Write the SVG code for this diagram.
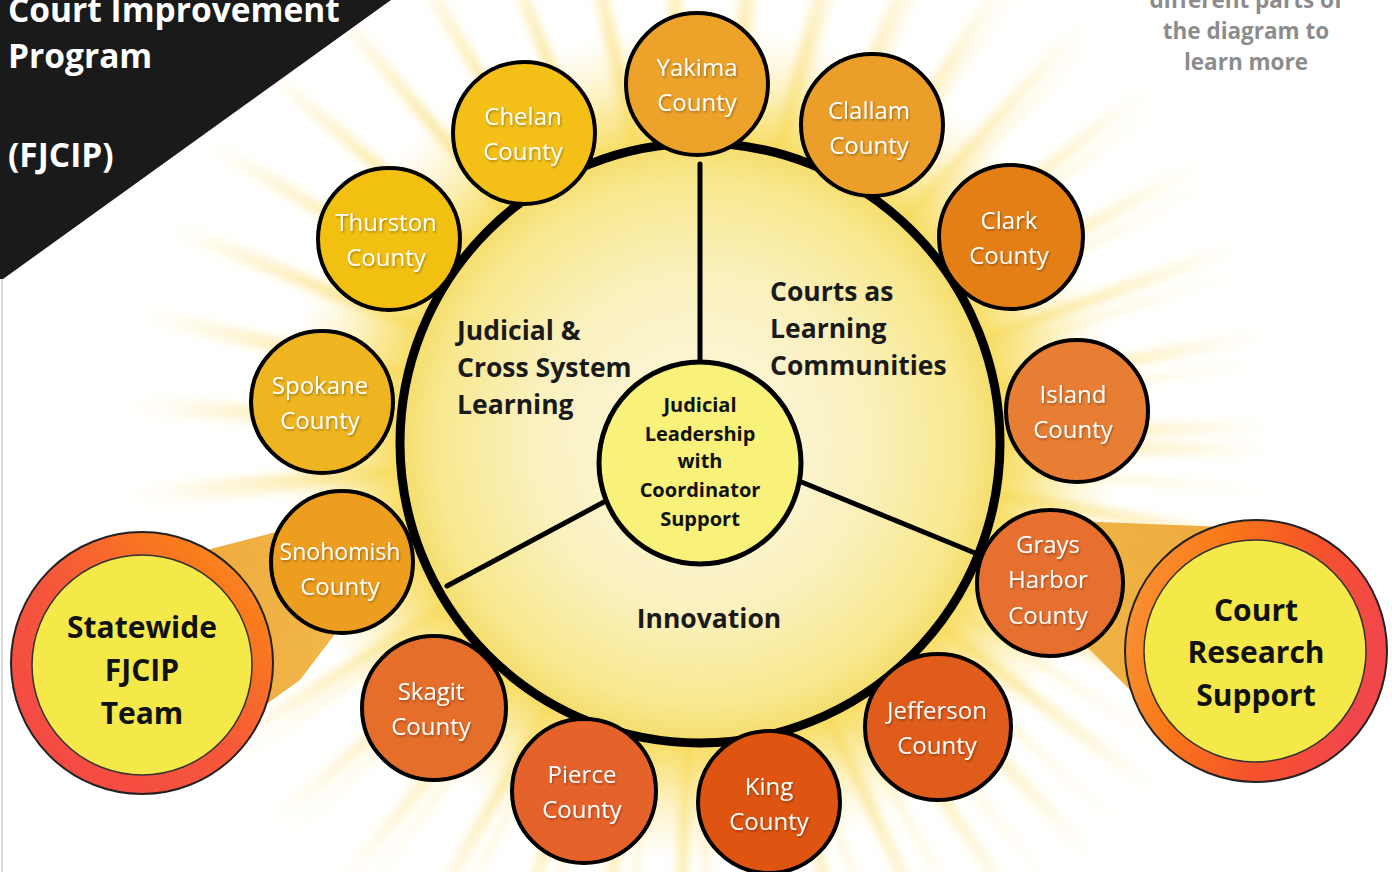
<svg xmlns="http://www.w3.org/2000/svg" width="1392" height="872" viewBox="0 0 1392 872">
  <defs>
    <style>
      .county { stroke: #000; stroke-width: 4; }
      .ctext { font-family: "Open Sans", "Liberation Sans", sans-serif; font-size: 24px; fill: #fff; text-anchor: middle; filter: url(#tshadow); }
      .sect { font-family: "Open Sans", "Liberation Sans", sans-serif; font-size: 26.5px; font-weight: 700; fill: #1a1a1a; }
      .hub { font-family: "Open Sans", "Liberation Sans", sans-serif; font-size: 20px; font-weight: 700; fill: #111; text-anchor: middle; }
      .big { font-family: "Open Sans", "Liberation Sans", sans-serif; font-size: 30px; font-weight: 700; fill: #111; text-anchor: middle; }
      .title { font-family: "Open Sans", "Liberation Sans", sans-serif; font-size: 33.5px; font-weight: 700; fill: #fff; }
      .hint { font-family: "Open Sans", "Liberation Sans", sans-serif; font-size: 22.5px; font-weight: 700; fill: #8c8c8c; text-anchor: middle; }
      .divider { stroke: #000; stroke-width: 5; stroke-linecap: round; fill: none; }
    </style>
    <filter id="tshadow" x="-20%" y="-30%" width="140%" height="160%">
      <feDropShadow dx="1" dy="1.5" stdDeviation="1" flood-color="#000" flood-opacity="0.35"/>
    </filter>
    <filter id="rayblur" x="-20%" y="-20%" width="140%" height="140%">
      <feGaussianBlur stdDeviation="5"/>
    </filter>
    <radialGradient id="rayFade" gradientUnits="userSpaceOnUse" cx="700" cy="443" r="640">
      <stop offset="0.46" stop-color="#f6cf3a" stop-opacity="0.9"/>
      <stop offset="0.66" stop-color="#f9d960" stop-opacity="0.5"/>
      <stop offset="0.9" stop-color="#fbe9a0" stop-opacity="0"/>
    </radialGradient>
    <radialGradient id="halo" gradientUnits="userSpaceOnUse" cx="700" cy="443" r="420">
      <stop offset="0.68" stop-color="#f6d74a" stop-opacity="1"/>
      <stop offset="0.80" stop-color="#f8df6c" stop-opacity="0.7"/>
      <stop offset="1" stop-color="#fcefb0" stop-opacity="0"/>
    </radialGradient>
    <radialGradient id="disc" gradientUnits="userSpaceOnUse" cx="700" cy="443" r="300">
      <stop offset="0" stop-color="#fcf8e2"/>
      <stop offset="0.55" stop-color="#faf1bf"/>
      <stop offset="0.88" stop-color="#f8e88e"/>
      <stop offset="1" stop-color="#f5dd6c"/>
    </radialGradient>
    <linearGradient id="ringLeft" x1="0" y1="1" x2="1" y2="0">
      <stop offset="0" stop-color="#f34448"/>
      <stop offset="0.5" stop-color="#f6583a"/>
      <stop offset="0.8" stop-color="#f97c1c"/>
      <stop offset="1" stop-color="#f8983a"/>
    </linearGradient>
    <linearGradient id="ringRight" x1="0" y1="0" x2="1" y2="0.3">
      <stop offset="0" stop-color="#f99a3e"/>
      <stop offset="0.35" stop-color="#f97a18"/>
      <stop offset="0.7" stop-color="#f5532a"/>
      <stop offset="1" stop-color="#f2474a"/>
    </linearGradient>
    <linearGradient id="beamL" x1="0" y1="0" x2="1" y2="0">
      <stop offset="0" stop-color="#eea232"/>
      <stop offset="1" stop-color="#f0b440"/>
    </linearGradient>
    <linearGradient id="beamR" x1="0" y1="0" x2="1" y2="0">
      <stop offset="0" stop-color="#efb23e"/>
      <stop offset="1" stop-color="#eda334"/>
    </linearGradient>
  </defs>

  <rect x="0" y="0" width="1392" height="872" fill="#fff"/>
  <line x1="2" y1="0" x2="2" y2="872" stroke="#cfcfcf" stroke-width="1.5"/>

  <!-- sunburst rays and halo behind the wheel -->
  <g id="sunburst">
    <g filter="url(#rayblur)">
      <circle cx="700" cy="443" r="450" fill="none" stroke="url(#rayFade)" stroke-width="300" stroke-dasharray="11 61"/>
      <circle cx="700" cy="443" r="440" fill="none" stroke="url(#rayFade)" stroke-width="260" stroke-dasharray="6 66" stroke-dashoffset="38" opacity="0.65"/>
    </g>
    <circle cx="700" cy="443" r="420" fill="url(#halo)"/>
  </g>

  <!-- beams linking the outer teams to their counties -->
  <g id="beams">
    <polygon points="160,562 330,518 338,630 300,680 250,716" fill="url(#beamL)" opacity="0.95"/>
    <polygon points="1050,520 1250,528 1200,760 1060,620" fill="url(#beamR)" opacity="0.95"/>
  </g>

  <!-- central wheel -->
  <g id="wheel">
    <circle cx="700" cy="443" r="300" fill="url(#disc)" stroke="#000" stroke-width="9"/>
  </g>

  <g id="connectors">
    <line class="divider" x1="700" y1="164" x2="700" y2="364"/>
    <line class="divider" x1="604" y1="502" x2="447" y2="586"/>
    <line class="divider" x1="799" y1="481" x2="975" y2="553"/>
  </g>

  <g id="sector-judicial">
    <text class="sect" x="457" y="340">Judicial &amp;</text>
    <text class="sect" x="457" y="377">Cross System</text>
    <text class="sect" x="457" y="414">Learning</text>
  </g>
  <g id="sector-courts">
    <text class="sect" x="770" y="301">Courts as</text>
    <text class="sect" x="770" y="338">Learning</text>
    <text class="sect" x="770" y="375">Communities</text>
  </g>
  <g id="sector-innovation">
    <text class="sect" x="709" y="628" text-anchor="middle">Innovation</text>
  </g>

  <g id="hub">
    <circle cx="700" cy="463" r="101" fill="#f8f27a" stroke="#000" stroke-width="5"/>
    <text class="hub" x="700" y="412">Judicial</text>
    <text class="hub" x="700" y="441">Leadership</text>
    <text class="hub" x="700" y="468">with</text>
    <text class="hub" x="700" y="497">Coordinator</text>
    <text class="hub" x="700" y="526">Support</text>
  </g>

  <!-- county nodes -->
  <g id="yakima">
    <circle class="county" cx="697" cy="84" r="71" fill="#eda22a"/>
    <text class="ctext" x="697" y="76">Yakima</text>
    <text class="ctext" x="697" y="111">County</text>
  </g>
  <g id="chelan">
    <circle class="county" cx="524" cy="133" r="71" fill="#f4c018"/>
    <text class="ctext" x="523" y="125">Chelan</text>
    <text class="ctext" x="523" y="160">County</text>
  </g>
  <g id="clallam">
    <circle class="county" cx="872" cy="125" r="71" fill="#eb9f2a"/>
    <text class="ctext" x="869" y="119">Clallam</text>
    <text class="ctext" x="869" y="154">County</text>
  </g>
  <g id="thurston">
    <circle class="county" cx="389" cy="239" r="71" fill="#f2c010"/>
    <text class="ctext" x="386" y="231">Thurston</text>
    <text class="ctext" x="386" y="266">County</text>
  </g>
  <g id="clark">
    <circle class="county" cx="1011" cy="237" r="72" fill="#e47f16"/>
    <text class="ctext" x="1009" y="229">Clark</text>
    <text class="ctext" x="1009" y="264">County</text>
  </g>
  <g id="spokane">
    <circle class="county" cx="322" cy="402" r="71" fill="#efb520"/>
    <text class="ctext" x="320" y="394">Spokane</text>
    <text class="ctext" x="320" y="429">County</text>
  </g>
  <g id="island">
    <circle class="county" cx="1077" cy="411" r="71" fill="#e77e34"/>
    <text class="ctext" x="1073" y="403">Island</text>
    <text class="ctext" x="1073" y="438">County</text>
  </g>
  <g id="snohomish">
    <circle class="county" cx="342" cy="562" r="71" fill="#ed9e1e"/>
    <text class="ctext" x="340" y="560" textLength="121" lengthAdjust="spacingAndGlyphs">Snohomish</text>
    <text class="ctext" x="340" y="595">County</text>
  </g>
  <g id="grays-harbor">
    <circle class="county" cx="1050" cy="583" r="73" fill="#e77030"/>
    <text class="ctext" x="1048" y="553">Grays</text>
    <text class="ctext" x="1048" y="588">Harbor</text>
    <text class="ctext" x="1048" y="624">County</text>
  </g>
  <g id="skagit">
    <circle class="county" cx="434" cy="708" r="72" fill="#e56e2b"/>
    <text class="ctext" x="431" y="700">Skagit</text>
    <text class="ctext" x="431" y="735">County</text>
  </g>
  <g id="jefferson">
    <circle class="county" cx="938" cy="727" r="73" fill="#e05c1b"/>
    <text class="ctext" x="937" y="719">Jefferson</text>
    <text class="ctext" x="937" y="754">County</text>
  </g>
  <g id="pierce">
    <circle class="county" cx="584" cy="791" r="72" fill="#e6622b"/>
    <text class="ctext" x="582" y="783">Pierce</text>
    <text class="ctext" x="582" y="818">County</text>
  </g>
  <g id="king">
    <circle class="county" cx="769" cy="802" r="71" fill="#df5410"/>
    <text class="ctext" x="769" y="795">King</text>
    <text class="ctext" x="769" y="830">County</text>
  </g>

  <!-- outer support teams -->
  <g id="statewide-team">
    <circle cx="142" cy="663" r="131" fill="url(#ringLeft)" stroke="#222" stroke-width="2"/>
    <circle cx="142" cy="665" r="110" fill="#f4e948" stroke="#333" stroke-width="1.5"/>
    <text class="big" x="142" y="638">Statewide</text>
    <text class="big" x="142" y="681">FJCIP</text>
    <text class="big" x="142" y="724">Team</text>
  </g>
  <g id="court-research">
    <circle cx="1256" cy="651" r="131" fill="url(#ringRight)" stroke="#222" stroke-width="2"/>
    <circle cx="1255" cy="651" r="111" fill="#f4e948" stroke="#333" stroke-width="1.5"/>
    <text class="big" x="1256" y="621">Court</text>
    <text class="big" x="1256" y="663">Research</text>
    <text class="big" x="1256" y="706">Support</text>
  </g>

  <!-- title banner -->
  <g id="title">
    <polygon points="0,0 391,0 3,279 0,279" fill="#1a1a1a"/>
    <text class="title" x="8" y="22">Court Improvement</text>
    <text class="title" x="8" y="68">Program</text>
    <text class="title" x="8" y="167">(FJCIP)</text>
  </g>

  <g id="hint">
    <text class="hint" x="1246" y="8">different parts of</text>
    <text class="hint" x="1246" y="39">the diagram to</text>
    <text class="hint" x="1246" y="70">learn more</text>
  </g>
</svg>
